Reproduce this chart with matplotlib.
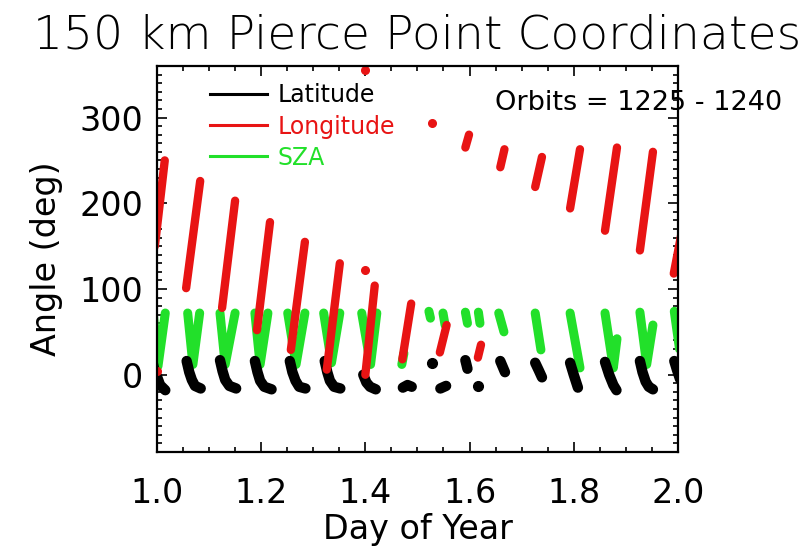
"""
150 km pierce point coordinates (latitude, longitude, solar zenith angle)
versus day of year for orbits 1225-1240.

Each orbit contributes a short run of samples; runs are stored as
(day, value) vertex lists and drawn as thick strokes.
"""

import matplotlib
matplotlib.use("Agg")
import matplotlib.pyplot as plt
from matplotlib.lines import Line2D
from matplotlib.ticker import MultipleLocator

ORBIT_FIRST = 1225
ORBIT_LAST = 1240

# latitude (deg) runs, one or more per orbit
LAT_SEGMENTS = [
    ([0.991, 0.996, 1.000, 1.006, 1.016], [16, 3, -2, -12, -18]),
    ([1.057, 1.062, 1.067, 1.073, 1.084], [16, 3, -6, -13, -16]),
    ([1.121, 1.126, 1.131, 1.139, 1.152], [17, 4, -6, -13, -16]),
    ([1.188, 1.193, 1.198, 1.206, 1.220], [16, 3, -7, -14, -17]),
    ([1.255, 1.260, 1.266, 1.273, 1.285], [16, 3, -7, -14, -16]),
    ([1.322, 1.327, 1.332, 1.340, 1.352], [16, 3, -7, -14, -16]),
    ([1.396, 1.402, 1.409, 1.420], [0, -9, -14, -17]),
    ([1.472, 1.481, 1.489], [-15, -12, -14]),
    ([1.544, 1.555], [-16, -13]),
    ([1.592, 1.596], [17, 7]),
    ([1.659, 1.668], [16, 3]),
    ([1.726, 1.733, 1.739], [14, 5, -3]),
    ([1.793, 1.800, 1.808], [14, 0, -15]),
    ([1.860, 1.868, 1.876, 1.882], [15, 0, -12, -18]),
    ([1.927, 1.932, 1.938, 1.944, 1.952], [16, 3, -8, -14, -17]),
    ([1.993, 1.998, 2.004], [16, 6, -5]),
]
LAT_DOTS_DAY = [1.528, 1.617]
LAT_DOTS_VAL = [14, -13]

# longitude (deg) runs
LON_SEGMENTS = [
    ([0.996, 1.015], [150, 250]),
    ([1.056, 1.083], [101, 226]),
    ([1.125, 1.150], [78, 203]),
    ([1.192, 1.217], [52, 178]),
    ([1.257, 1.284], [29, 155]),
    ([1.326, 1.351], [6, 130]),
    ([1.400, 1.418], [0, 104]),
    ([1.471, 1.488], [18, 83]),
    ([1.543, 1.556], [26, 58]),
    ([1.592, 1.599], [265, 280]),
    ([1.616, 1.622], [20, 35]),
    ([1.659, 1.667], [242, 263]),
    ([1.726, 1.739], [219, 254]),
    ([1.793, 1.812], [194, 263]),
    ([1.860, 1.883], [168, 265]),
    ([1.927, 1.952], [145, 260]),
    ([1.992, 2.010], [118, 175]),
]
LON_DOTS_DAY = [1.000, 1.399, 1.399, 1.528]
LON_DOTS_VAL = [4, 356, 122, 294]

# solar zenith angle (deg) runs
SZA_SEGMENTS = [
    ([0.993, 1.002, 1.016], [72, 10, 72]),
    ([1.059, 1.069, 1.082], [72, 12, 72]),
    ([1.121, 1.131, 1.150], [72, 12, 72]),
    ([1.188, 1.198, 1.213], [72, 12, 72]),
    ([1.251, 1.267, 1.284], [72, 12, 72]),
    ([1.320, 1.335, 1.351], [72, 14, 72]),
    ([1.393, 1.410, 1.422], [72, 12, 72]),
    ([1.470, 1.474], [12, 25]),
    ([1.522, 1.525], [74, 66]),
    ([1.549, 1.553], [72, 58]),
    ([1.592, 1.596], [73, 60]),
    ([1.617, 1.620], [73, 60]),
    ([1.656, 1.666], [72, 50]),
    ([1.726, 1.737], [72, 29]),
    ([1.793, 1.812], [72, 8]),
    ([1.860, 1.876, 1.883], [72, 8, 42]),
    ([1.927, 1.940, 1.952], [73, 12, 58]),
    ([1.993, 2.003], [74, 30]),
]

RED = "#e81414"
GREEN = "#22e02a"
BLACK = "black"


def draw_runs(ax, segments, color, lw, zorder):
    for days, vals in segments:
        ax.plot(days, vals, color=color, lw=lw, solid_capstyle="round",
                solid_joinstyle="round", zorder=zorder)


def main() -> None:
    plt.rcParams["font.family"] = ["DejaVu Sans"]
    fig = plt.figure(figsize=(8.09, 5.6), dpi=100)
    ax = fig.add_axes([0.194, 0.193, 0.644, 0.689])

    draw_runs(ax, SZA_SEGMENTS, GREEN, 6.5, 2)
    draw_runs(ax, LAT_SEGMENTS, BLACK, 7.5, 3)
    ax.plot(LAT_DOTS_DAY, LAT_DOTS_VAL, "o", color=BLACK, ms=7, zorder=3)
    draw_runs(ax, LON_SEGMENTS, RED, 6, 4)
    ax.plot(LON_DOTS_DAY, LON_DOTS_VAL, "o", color=RED, ms=5.5, zorder=4)

    ax.set_xlim(1.0, 2.0)
    ax.set_ylim(-90, 360)
    ax.xaxis.set_major_locator(MultipleLocator(0.2))
    ax.xaxis.set_minor_locator(MultipleLocator(0.05))
    ax.yaxis.set_major_locator(MultipleLocator(100))
    ax.yaxis.set_minor_locator(MultipleLocator(10))
    ax.xaxis.set_major_formatter(lambda v, pos: f"{v:.1f}")

    ax.tick_params(which="both", direction="in", top=True, right=True,
                   width=1.2, colors="black")
    ax.tick_params(which="major", length=7)
    ax.tick_params(which="minor", length=3.5)
    ax.tick_params(axis="x", which="major", labelsize=24, pad=18)
    ax.tick_params(axis="y", which="major", labelsize=24, pad=10)
    for sp in ax.spines.values():
        sp.set_linewidth(1.6)
        sp.set_zorder(6)

    ax.set_xlabel("Day of Year", fontsize=24, labelpad=2)
    ax.set_ylabel("Angle (deg)", fontsize=24, labelpad=12)
    ax.set_title("150 km Pierce Point Coordinates", fontsize=34,
                 fontweight="light", pad=13)

    handles = [Line2D([], [], color=c, lw=2.2) for c in (BLACK, RED, GREEN)]
    ax.legend(handles, ["Latitude", "Longitude", "SZA"], loc="upper left",
              bbox_to_anchor=(0.062, 1.01), frameon=False, fontsize=17,
              handlelength=2.4, handletextpad=0.45, labelspacing=0.3,
              labelcolor=[BLACK, RED, GREEN])

    ax.text(0.649, 0.905, f"Orbits = {ORBIT_FIRST} - {ORBIT_LAST}",
            transform=ax.transAxes, fontsize=19.5, va="center", ha="left",
            clip_on=False, zorder=1)

    fig.savefig("out.png", dpi=100)


if __name__ == "__main__":
    main()
